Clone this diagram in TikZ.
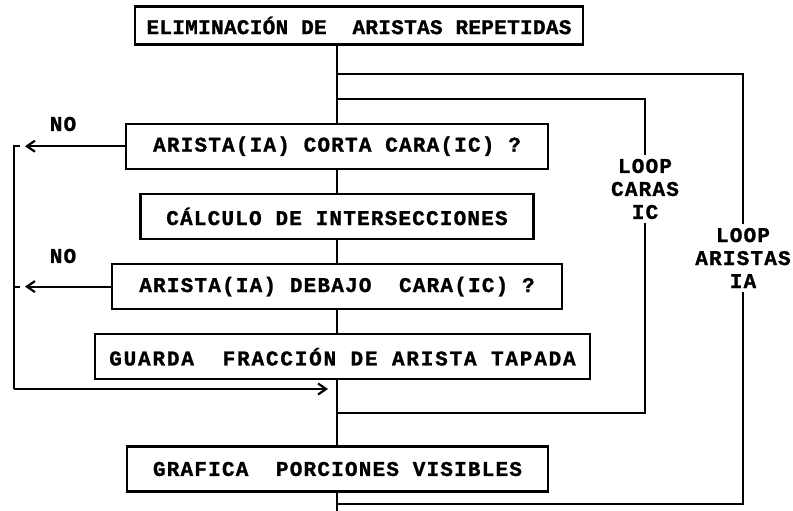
\documentclass[tikz,border=0pt]{standalone}
\usepackage{fontspec}
\setmonofont{Liberation Mono}[LetterSpace=5.7, BoldFeatures={FakeBold=1.2}]
\usetikzlibrary{positioning, arrows.meta}
\tikzset{
>={Straight Barb[length=8pt, width=11pt]}, % open chevron heads as in the scan
node distance=23pt, % gap between the stacked boxes
every node/.style={font=\fontsize{21}{23}\selectfont\ttfamily\bfseries}, % typewriter text
paso/.style={draw, minimum height=45pt, inner xsep=6pt, inner ysep=0pt}, % one box of the flowchart
rotulo/.style={align=center, inner sep=3pt}, % loop names cut into the lines
}

\begin{document}
\begin{tikzpicture}[x=1pt, y=1pt, line width=2.2pt]
      \useasboundingbox (0,0) rectangle (793,-511);
      \coordinate (main) at (337,0);
      \coordinate (lft) at (14,0);

      \node[paso, minimum width=448pt, minimum height=38pt] (elim) at (359,-25.5) {\addfontfeature{LetterSpace=1.5}ELIMINACIÓN DE\ \ ARISTAS REPETIDAS};
      \node[paso, minimum width=422pt, below=77pt of elim, xshift=-22pt] (corta) {ARISTA(IA) CORTA CARA(IC) ?};
      \node[paso, minimum width=393pt, below=of corta] (calc) {CÁLCULO DE INTERSECCIONES};
      \node[paso, minimum width=450pt, below=of calc] (debajo) {ARISTA(IA) DEBAJO\ \ CARA(IC) ?};
      \node[paso, minimum width=495pt, below=of debajo, xshift=5.5pt] (guarda) {\addfontfeature{LetterSpace=8.6}GUARDA\ \ FRACCIÓN DE ARISTA TAPADA};
      \node[paso, minimum width=421pt, below=65pt of guarda, xshift=-5pt] (grafica) {GRAFICA\ \ PORCIONES VISIBLES};

      \node (no1) at (63,-124) {NO};
      \node (no2) at (63,-256) {NO};
      \node[rotulo] (lc) at (645,-189) {LOOP\\CARAS\\IC};
      \node[rotulo] (la) at (743,-258) {LOOP\\ARISTAS\\IA};

      \coordinate (ic1) at (645,-99);
      \coordinate (ic2) at (645,-413);
      \coordinate (ia1) at (743,-74);
      \coordinate (ia2) at (743,-504);
      \coordinate (fin) at (337,-511);
      \coordinate (c1) at (corta.west -| lft);
      \coordinate (c2) at (debajo.west -| lft);
      \coordinate (c3) at (14,-389);

      % main line
      \draw (elim.south -| main) -- (corta.north)
      (corta.south) -- (calc.north)
      (calc.south) -- (debajo.north)
      (debajo.south) -- (guarda.north -| main)
      (guarda.south -| main) -- (grafica.north -| main)
      (grafica.south -| main) -- (fin);

      % NO branches
      \draw[->, shorten >=11pt] (corta.west) -- (c1);
      \draw[->, shorten >=11pt] (debajo.west) -- (c2);
      \draw ([xshift=6pt]c1) -- (c1) -- (c3);
      \draw ([xshift=6pt]c2) -- (c2);
      \draw[->, shorten >=9pt] (c3) -- (c3 -| main);

      % loops
      \draw (ic1 -| main) -- (ic1) -- (lc);
      \draw (lc) -- (ic2) -- (ic2 -| main);
      \draw (ia1 -| main) -- (ia1) -- (la);
      \draw (la) -- (ia2) -- (ia2 -| main);
\end{tikzpicture}
\end{document}
